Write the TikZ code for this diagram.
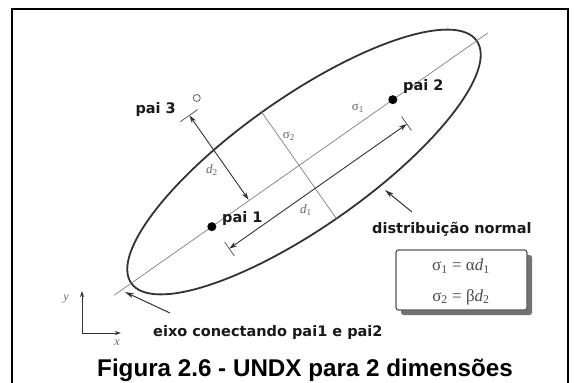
\documentclass[tikz,border=0pt]{standalone}
\usepackage{fontspec}
\setmainfont{Liberation Serif}
\newfontfamily\lblfont{DejaVu Sans}
\newfontfamily\capfont{Liberation Sans}
\usetikzlibrary{arrows.meta,shadows}
\begin{document}
\begin{tikzpicture}[x=1pt,y=-1pt,
  lbl/.style={font=\lblfont\bfseries\fontsize{14.5}{16}\selectfont, inner sep=0pt, text=black!90},
  greek/.style={font=\fontsize{13}{14}\selectfont, text=black!60, inner sep=0pt},
  axisline/.style={draw=black!50, line width=0.7pt},
  ellstyle/.style={draw=black!80, line width=1.8pt},
  dimarrow/.style={draw=black!80, line width=0.9pt, {Stealth[length=8pt,width=5pt]}-{Stealth[length=8pt,width=5pt]}},
  tick/.style={draw=black!70, line width=0.7pt},
  ptr/.style={draw=black!80, line width=1pt, -{Stealth[length=9pt,width=5pt]}},
  axarrow/.style={draw=black!80, line width=1pt, -{Stealth[length=6pt,width=4pt]}},
  dot/.style={circle, fill=black, inner sep=0pt, minimum size=9pt},
  odot/.style={circle, draw=black!60, line width=0.8pt, fill=white, inner sep=0pt, minimum size=7pt},
  fbox/.style={draw=black!65, line width=1.2pt, fill=white, rounded corners=2.5pt, minimum width=131pt, minimum height=60pt, inner sep=0pt,
     drop shadow={shadow xshift=5pt, shadow yshift=-5pt, fill=black!55, opacity=1}},
  ftext/.style={font=\fontsize{17}{19}\selectfont, text=black!70, inner sep=0pt},
  capstyle/.style={font=\capfont\bfseries\fontsize{24.2}{28}\selectfont, inner sep=0pt}
]
\useasboundingbox (0,0) rectangle (574,383);
\fill[white] (0,0) rectangle (574,383);
% frame
\draw[line width=2.5pt] (12,390) -- (12,9) -- (568,9) -- (568,390);

% rotated frame of the ellipse
\begin{scope}[shift={(304,162)}, rotate=35.06]
  \draw[ellstyle] (0,0) ellipse [x radius=211, y radius=65];
  \coordinate (axA) at (-232,0);
  \coordinate (axB) at (225,0);
  \coordinate (p1) at (-112.6,0);
  \coordinate (p2) at (108.5,0);
  \coordinate (p3) at (-51,-114);
  \coordinate (a3top) at (-67,-104);
  \coordinate (a3foot) at (-67,-1);
  \coordinate (t3a) at (-78,-104);
  \coordinate (t3b) at (-57,-104);
  \coordinate (d1a) at (-111,28);
  \coordinate (d1b) at (106,28);
  \coordinate (d1at) at (-111,20);
  \coordinate (d1ab) at (-111,37);
  \coordinate (d1bt) at (106,19);
  \coordinate (d1bb) at (106,36);
  \coordinate (s2a) at (-6,-67);
  \coordinate (s2b) at (-6,66);
\end{scope}

% axis through parents
\draw[axisline] (axA) -- (axB);
% sigma2 line
\draw[axisline] (s2a) -- (s2b);
% d2 arrow from pai3 to axis
\draw[dimarrow] (a3top) -- (a3foot);
\draw[tick] (t3a) -- (t3b);
% d1 arrow
\draw[dimarrow] (d1a) -- (d1b);
\draw[tick] (d1at) -- (d1ab);
\draw[tick] (d1bt) -- (d1bb);

% parents
\node[dot] (pai1) at (p1) {};
\node[dot] (pai2) at (p2) {};
\node[odot] (pai3) at (p3) {};

% labels
\node[lbl, anchor=base east] (l3) at (176,113) {pai 3};
\node[lbl, anchor=base west] (l1) at (222,222) {pai 1};
\node[lbl, anchor=base west] (l2) at (403,90) {pai 2};
\node[lbl, anchor=base west] (ldist) at (372,233) {distribuição normal};
\node[lbl, anchor=base west] (leixo) at (153,336) {eixo conectando pai1 e pai2};

% greek labels
\node[greek] (ls1) at (358,108) {σ\textsubscript{1}};
\node[greek] (ls2) at (289,136) {σ\textsubscript{2}};
\node[greek] (ld1) at (306,210) {\textit{d}\textsubscript{1}};
\node[greek] (ld2) at (212,170) {\textit{d}\textsubscript{2}};

% pointers
\coordinate (eixoTail) at (170,313);
\coordinate (eixoTip) at (125,292);
\draw[ptr] (eixoTail) -- (eixoTip);
\coordinate (distTail) at (412,212);
\coordinate (distTip) at (385,190);
\draw[ptr] (distTail) -- (distTip);

% formula box
\node[fbox] (fb) at (461.5,280) {};
\node[ftext] (f1) at (461,266) {σ\textsubscript{1} = α\textit{d}\textsubscript{1}};
\node[ftext] (f2) at (461,297) {σ\textsubscript{2} = β\textit{d}\textsubscript{2}};

% coordinate axes
\coordinate (O) at (82,333);
\coordinate (Yt) at (82,291);
\coordinate (Xt) at (121,333);
\draw[axarrow] (O) -- (Yt);
\draw[axarrow] (O) -- (Xt);
\node[greek, font=\itshape\fontsize{12}{13}\selectfont] (ly) at (66,299) {y};
\node[greek, font=\itshape\fontsize{12}{13}\selectfont] (lx) at (117,343) {x};

% caption
\node[capstyle, anchor=base] (cap) at (305,376) {Figura 2.6 - UNDX para 2 dimensões};
\end{tikzpicture}
\end{document}
